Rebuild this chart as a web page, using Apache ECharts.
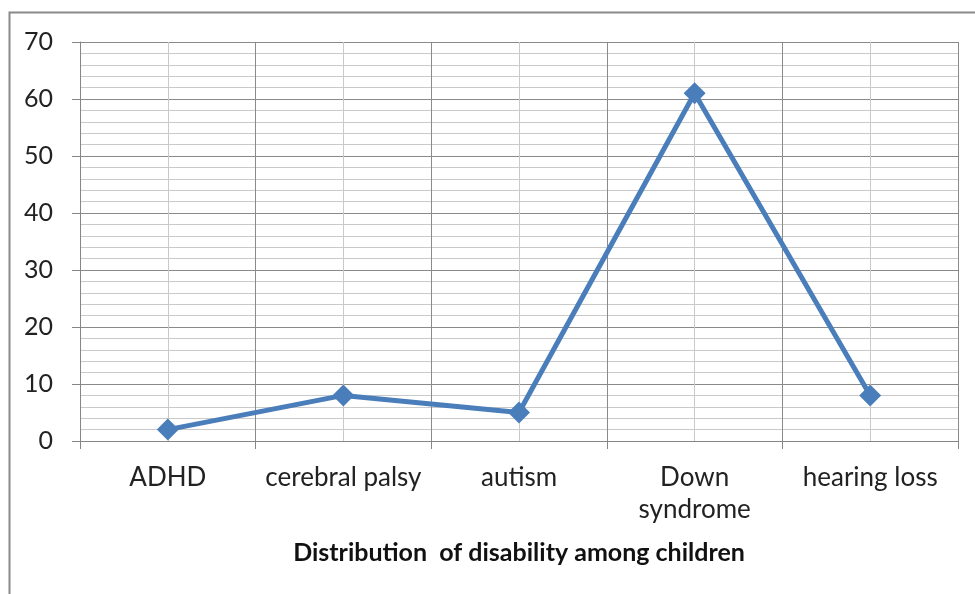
<!DOCTYPE html>
<html>
<head>
<meta charset="utf-8">
<script src="https://cdn.jsdelivr.net/npm/echarts@6/dist/echarts.min.js"></script>
<style>
  html, body { margin: 0; padding: 0; background: #fff; }
  #chart { width: 975px; height: 594px; }
</style>
</head>
<body>
<div id="chart"></div>
<script>
// Disability types and share of children (%)
const categories = ['ADHD', 'cerebral palsy', 'autism', 'Down\nsyndrome', 'hearing loss'];
const values = [2, 8, 5, 61, 8];
const xTitle = 'Distribution  of disability among children';

const chart = echarts.init(document.getElementById('chart'));
const font = 'Lato, "Open Sans", sans-serif';

chart.setOption({
  animation: false,
  graphic: [{
    type: 'rect',
    shape: { x: 9.5, y: 12.5, width: 980, height: 600 },
    style: { fill: 'none', stroke: '#8a8a8a', lineWidth: 2 },
    silent: true
  }],
  grid: { left: 80, right: 17, top: 42, bottom: 153 },
  xAxis: [{
    type: 'category',
    data: categories,
    boundaryGap: true,
    name: xTitle,
    nameLocation: 'middle',
    nameGap: 99,
    nameTextStyle: { fontFamily: font, fontSize: 25, fontWeight: 'bold', color: '#111' },
    axisLine: { lineStyle: { color: '#868686', width: 1 } },
    axisTick: { show: true, length: 8, alignWithLabel: false, lineStyle: { color: '#868686' } },
    axisLabel: { fontFamily: font, fontSize: 26, color: '#222', margin: 21, lineHeight: 32, interval: 0 },
    splitLine: { show: true, lineStyle: { color: '#8a8a8a', width: 1 } }
  }, {
    // light vertical guides through the category centres
    type: 'value',
    min: 0, max: 10, interval: 1,
    position: 'bottom',
    axisLine: { show: false },
    axisTick: { show: false },
    axisLabel: { show: false },
    splitLine: { show: true, lineStyle: { color: ['rgba(0,0,0,0)', '#c9c9c9'], width: 1 } }
  }],
  yAxis: {
    type: 'value',
    min: 0, max: 70, interval: 10,
    axisLine: { show: true, lineStyle: { color: '#868686' } },
    axisTick: { show: true, length: 8, lineStyle: { color: '#868686' } },
    axisLabel: { fontFamily: font, fontSize: 25, color: '#222', margin: 27 },
    splitLine: { show: true, lineStyle: { color: '#8a8a8a', width: 1 } },
    minorTick: { show: false, splitNumber: 5 },
    minorSplitLine: { show: true, lineStyle: { color: '#c9c9c9', width: 1 } }
  },
  series: [{
    type: 'line',
    xAxisIndex: 0,
    data: values,
    symbol: 'diamond',
    symbolSize: 22,
    lineStyle: { color: '#4a7ebb', width: 5 },
    itemStyle: { color: '#4a7ebb' },
    z: 5
  }]
});
</script>
</body>
</html>
